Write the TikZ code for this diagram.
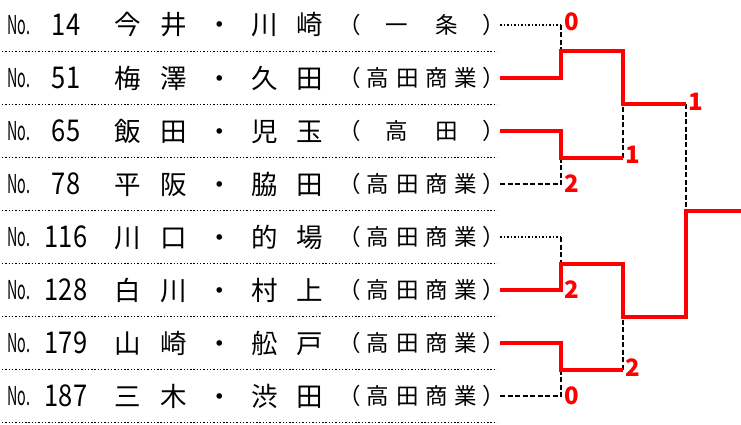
\documentclass[tikz,border=0pt]{standalone}
\usepackage{fontspec}
\setmainfont{Noto Sans CJK JP}
\usetikzlibrary{positioning}

\newcommand\playername[4]{\makebox[47pt]{#1}\makebox[46pt]{#2}\makebox[45pt]{・}\makebox[45pt]{#3}\makebox[45pt]{#4}}
\newcommand\schoolfull{\makebox[29.5pt]{高}\makebox[29.5pt]{田}\makebox[29.5pt]{商}\makebox[29.5pt]{業}}
\newcommand\schooltwo[2]{\makebox[50pt]{#1}\makebox[50pt]{#2}}

\begin{document}
\begin{tikzpicture}[x=1pt,y=-1pt,
  every node/.style={inner sep=0pt},
  notext/.style={font=\fontsize{26}{26}\selectfont},
  numtext/.style={font=\fontsize{30}{30}\selectfont},
  nametext/.style={font=\fontsize{26.5}{26.5}\selectfont,anchor=west},
  schtext/.style={font=\fontsize{22.5}{22.5}\selectfont},
  sepline/.style={line width=1.3pt,dash pattern=on 1.4pt off 1.9pt},
  losedot/.style={line width=1.5pt,dash pattern=on 1.5pt off 2pt},
  loser/.style={line width=1.5pt,dash pattern=on 5pt off 2.5pt},
  winner/.style={red,line width=4pt,line join=miter},
  score/.style={red,font=\bfseries\fontsize{24}{24}\selectfont}]
  \useasboundingbox (0,0) rectangle (741,425);

  % rows
  \foreach \k/\num/\na/\nb/\nc/\nd in {0/14/今/井/川/崎,1/51/梅/澤/久/田,2/65/飯/田/児/玉,3/78/平/阪/脇/田,
      4/116/川/口/的/場,5/128/白/川/村/上,6/179/山/崎/舩/戸,7/187/三/木/渋/田} {
    \pgfmathsetmacro\yy{25+53*\k}
    \node[notext] (no\k) at (19,\yy) {\scalebox{0.55}[1]{No.}};
    \node[numtext] (num\k) at (66,\yy) {\scalebox{0.85}[1]{\num}};
    \node[nametext] (name\k) at (104,\yy) {\playername{\na}{\nb}{\nc}{\nd}};
    \node[schtext] (lp\k) at (350,\yy) {（};
    \node[schtext] (rp\k) at (494,\yy) {）};
    \coordinate (e\k) at (500,\yy);
    \draw[sepline] (2,\yy+26.5) -- (497,\yy+26.5);
  }
  \node[schtext] (sch0) at (422,25) {\schooltwo{一}{条}};
  \node[schtext] (sch2) at (422,131) {\schooltwo{高}{田}};
  \foreach \k in {1,3,4,5,6,7}
    \node[schtext] (sch\k) at (422,25+53*\k) {\schoolfull};

  % bracket joints
  \coordinate (r1a) at (561,51.5);
  \coordinate (r1b) at (561,157.5);
  \coordinate (r1c) at (561,263.5);
  \coordinate (r1d) at (561,369.5);
  \coordinate (r2a) at (623,104.5);
  \coordinate (r2b) at (623,316.5);
  \coordinate (fin) at (686,210.5);
  \coordinate (out) at (741,210.5);

  % top half
  \draw[losedot] (e0) -- (e0 -| r1a);
  \draw[loser] (e0 -| r1a) -- (r1a);
  \draw[loser] (e3) -| (r1b);
  \draw[loser] (r1b -| r2a) -- (r2a);
  \draw[loser] (r2a -| fin) -- (fin);
  \draw[winner] (e1) -| (r1a) -| (r2a) -- (r2a -| fin);
  \draw[winner] (e2) -| (r1b) -- (r1b -| r2a);

  % bottom half
  \draw[losedot] (e4) -- (e4 -| r1c);
  \draw[loser] (e4 -| r1c) -- (r1c);
  \draw[loser] (e7) -| (r1d);
  \draw[loser] (r1d -| r2b) -- (r2b);
  \draw[winner] (e5) -| (r1c) -| (r2b) -| (fin) -- (out);
  \draw[winner] (e6) -| (r1d) -- (r1d -| r2b);

  % scores
  \node[score] (s1) at (572,22) {0};
  \node[score] (s2) at (572,184) {2};
  \node[score] (s3) at (633,155) {1};
  \node[score] (s4) at (696,102) {1};
  \node[score] (s5) at (572,290) {2};
  \node[score] (s6) at (572,396) {0};
  \node[score] (s7) at (633,368) {2};
\end{tikzpicture}
\end{document}
